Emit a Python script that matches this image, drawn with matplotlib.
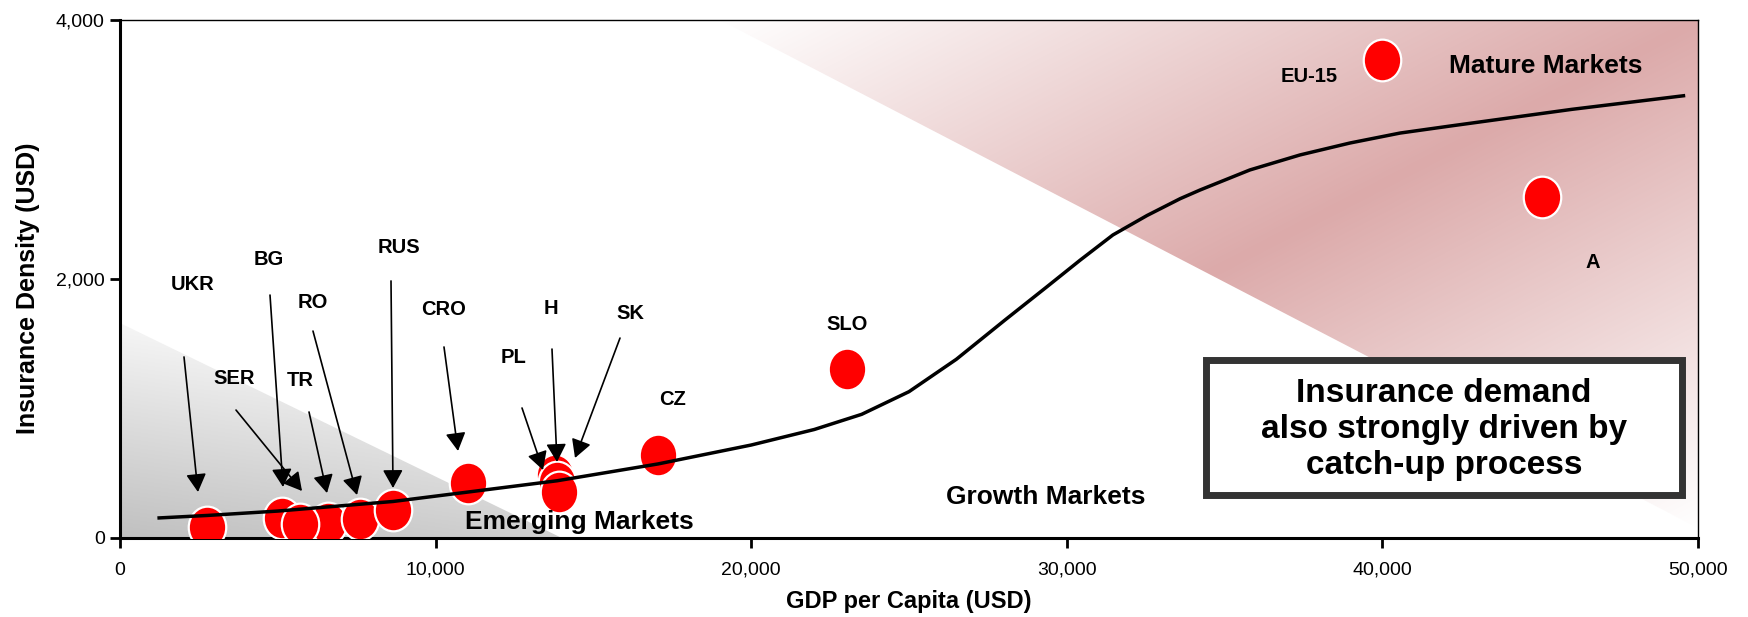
import numpy as np
import matplotlib.pyplot as plt
from matplotlib.patches import Polygon, Rectangle
from matplotlib.path import Path
from matplotlib.transforms import Affine2D
from matplotlib.ticker import FuncFormatter

plt.rcParams['font.family'] = ['Liberation Sans', 'DejaVu Sans']

# --------------------------
# Data
# --------------------------
countries = ['UKR', 'BG', 'TR', 'RO', 'SER', 'RUS', 'CRO', 'PL', 'H', 'SK',
             'CZ', 'SLO', 'EU-15', 'A']
gdp = [2757, 5133, 6591, 7605, 5703, 8650, 11027, 13780, 13850, 13910,
       17047, 23035, 39987, 45057]
density = [85, 154, 116, 147, 108, 216, 425, 486, 432, 355,
           641, 1305, 3691, 2633]

# catch-up curve
trend_gdp = [1240, 2760, 5000, 8650, 11030, 13850, 17050, 20000, 22000, 23500,
             25000, 26500, 28040, 29370, 30420, 31460, 32540, 33590, 34220,
             35800, 37390, 38970, 40560, 42140, 46000, 49540]
trend_density = [155, 174, 208, 282, 355, 442, 572, 718, 838, 955,
                 1130, 1380, 1683, 1940, 2145, 2340, 2490, 2620, 2687,
                 2842, 2958, 3050, 3127, 3181, 3310, 3415]

x_ticks = [0, 10000, 20000, 30000, 40000, 50000]
y_ticks = [0, 2000, 4000]

# segment areas
emerging_area = [(0, 0), (0, 1660), (14000, 0)]
mature_area = [(19000, 4000), (50000, 4000), (50000, 80)]

# label text positions, arrows (start, tip)
label_pos = {'UKR': (2313, 1961), 'BG': (4721, 2147), 'RO': (6115, 1815),
             'RUS': (8840, 2247), 'CRO': (10266, 1768), 'H': (13657, 1776),
             'SK': (16160, 1730), 'PL': (12484, 1390), 'SER': (3612, 1228),
             'TR': (5703, 1220), 'CZ': (17522, 1073), 'SLO': (23035, 1652),
             'EU-15': (37674, 3560), 'A': (46673, 2131)}
arrows = {'UKR': ((2028, 1398), (2471, 355)),
          'BG': ((4753, 1876), (5165, 394)),
          'SER': ((3676, 988), (5767, 363)),
          'TR': ((5989, 973), (6559, 347)),
          'RO': ((6115, 1598), (7510, 332)),
          'RUS': ((8587, 1985), (8650, 386)),
          'CRO': ((10266, 1475), (10710, 672)),
          'PL': ((12738, 1004), (13403, 525)),
          'H': ((13688, 1459), (13847, 587)),
          'SK': ((15843, 1544), (14417, 618))}

fig = plt.figure(figsize=(17.48, 6.17), dpi=100)
ax = fig.add_axes([120 / 1748, 79 / 617, 1578 / 1748, 518 / 617])


def gradient_area(verts, colour_func, zorder=0):
    poly = Polygon(verts, closed=True, facecolor='none', edgecolor='none')
    ax.add_patch(poly)
    xs = [p[0] for p in verts]
    ys = [p[1] for p in verts]
    u, v = np.meshgrid(np.linspace(0, 1, 600), np.linspace(0, 1, 300))
    img = colour_func(u, v)
    im = ax.imshow(img, extent=(min(xs), max(xs), min(ys), max(ys)),
                   origin='lower', aspect='auto', zorder=zorder,
                   interpolation='bilinear')
    im.set_clip_path(poly)


def grey_shade(u, v):
    t = np.clip(0.85 * v + 0.25 * u, 0, 1)
    g = (192 + (255 - 192) * t) / 255
    return np.dstack([g, g, g])


def pink_shade(u, v):
    t = (u + (1 - v)) / 2
    k = 1 - np.abs(2 * t - 1)
    pink = np.array([220, 170, 170]) / 255
    return 1 - (1 - pink)[None, None, :] * k[:, :, None]


gradient_area(emerging_area, grey_shade)
gradient_area(mature_area, pink_shade)

# ellipse marker, a bit taller than wide
ell = Path.unit_circle().transformed(Affine2D().scale(0.9, 1.0))
ax.plot(gdp, density, linestyle='none', marker=ell, markersize=30,
        markerfacecolor='#ff0000', markeredgecolor='white',
        markeredgewidth=1.6, zorder=3)

ax.plot(trend_gdp, trend_density, color='black', lw=2.5, zorder=4,
        solid_joinstyle='round')

for name in countries:
    lx, ly = label_pos[name]
    ax.text(lx, ly, name, ha='center', va='center', fontsize=14.5,
            fontweight='bold', zorder=6)

for name, (start, tip) in arrows.items():
    ax.annotate('', xy=tip, xytext=start, zorder=5,
                arrowprops=dict(arrowstyle='-|>,head_length=0.65,head_width=0.36',
                                color='black', lw=1.2, shrinkA=0, shrinkB=0,
                                mutation_scale=17))

ax.text(45184, 3645, 'Mature Markets', ha='center', va='center',
        fontsize=19, fontweight='bold', zorder=6)
ax.text(29341, 317, 'Growth Markets', ha='center', va='center',
        fontsize=19, fontweight='bold', zorder=6)
ax.text(14544, 124, 'Emerging Markets', ha='center', va='center',
        fontsize=19, fontweight='bold', zorder=6)

# message box
ax.add_patch(Rectangle((34400, 335), 15100, 1040, facecolor='white',
                       edgecolor='#333333', lw=5, zorder=7))
ax.text(41952, 840, 'Insurance demand\nalso strongly driven by\ncatch-up process',
        ha='center', va='center', fontsize=24, fontweight='bold',
        linespacing=1.2, zorder=8)

ax.set_xlim(0, 50000)
ax.set_ylim(0, 4000)
ax.set_xticks(x_ticks)
ax.set_yticks(y_ticks)
fmt = FuncFormatter(lambda v, p: f'{int(v):,}')
ax.xaxis.set_major_formatter(fmt)
ax.yaxis.set_major_formatter(fmt)
ax.tick_params(direction='out', length=7, width=2, labelsize=14)
ax.tick_params(axis='x', pad=10)
ax.tick_params(axis='y', pad=4)

for side in ['left', 'bottom']:
    ax.spines[side].set_linewidth(2.2)
for side in ['top', 'right']:
    ax.spines[side].set_linewidth(1.0)

ax.set_xlabel('GDP per Capita (USD)', fontsize=17, fontweight='bold')
ax.set_ylabel('Insurance Density (USD)', fontsize=18, fontweight='bold')
ax.xaxis.set_label_coords(0.5, -0.10)
ax.yaxis.set_label_coords(-0.051, 0.482)

plt.savefig('out.png', dpi=100)
